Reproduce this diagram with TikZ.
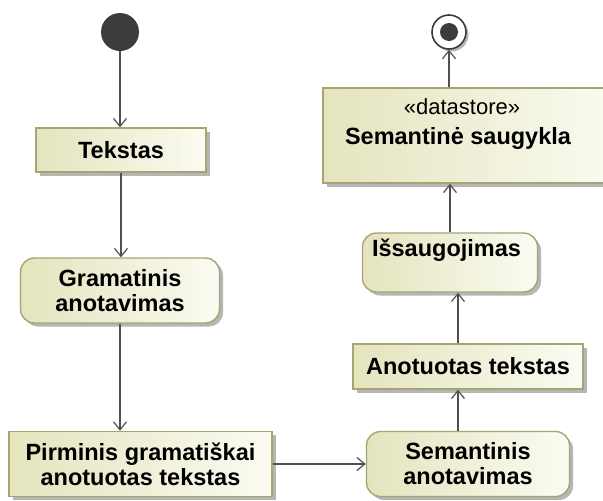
\documentclass[tikz,border=0pt]{standalone}
\usepackage{fontspec}
\setmainfont{Liberation Sans}
\usetikzlibrary{arrows.meta,shadows}
\definecolor{boxL}{RGB}{228,228,190}
\definecolor{boxR}{RGB}{251,251,242}
\definecolor{boxEdge}{RGB}{165,165,115}
\definecolor{flow}{RGB}{80,80,80}
\definecolor{dot}{RGB}{60,60,60}
\definecolor{shadowgrey}{RGB}{182,182,182}
\begin{document}
\begin{tikzpicture}[x=1pt,y=-1pt,
  lbl/.style={font=\fontsize{23.5}{25}\selectfont\bfseries, align=center, inner sep=0pt},
  stereo/.style={font=\fontsize{22}{24}\selectfont, inner sep=0pt},
  boxbase/.style={draw=boxEdge, line width=1.4pt, left color=boxL, right color=boxR,
    drop shadow={shadow xshift=3.5pt, shadow yshift=-3.5pt, fill=shadowgrey, opacity=1},
    inner sep=0pt, font=\fontsize{23.5}{25}\selectfont\bfseries, align=center},
  objbox/.style={boxbase, rectangle},
  actbox/.style={boxbase, rectangle, rounded corners=14pt},
  flowline/.style={draw=flow, line width=1.3pt, -{Straight Barb[length=8pt,width=13pt,line width=1.2pt]}}]
\clip (0,0) rectangle (603,501);
\useasboundingbox (0,0) rectangle (603,501);

% start and end points of the activity
\node[circle, fill=dot, minimum size=38pt, inner sep=0pt] (init) at (120,32) {};
\node[circle, draw=dot, line width=1.6pt, fill=white, minimum size=34pt, inner sep=0pt,
  drop shadow={shadow xshift=2.5pt, shadow yshift=-2.5pt, fill=shadowgrey, opacity=1}] (final) at (449,32) {};
\node[circle, fill=dot, minimum size=18pt, inner sep=0pt] (finalIn) at (final) {};

% left column
\node[objbox, minimum width=170pt, minimum height=44pt] (tekstas) at (121,150) {Tekstas};
\node[actbox, minimum width=199pt, minimum height=65pt] (gram) at (120,290.5) {Gramatinis\\anotavimas};
\node[objbox, minimum width=263pt, minimum height=65pt] (pirm) at (140.5,464) {Pirminis gramatiškai\\anotuotas tekstas};

% right column
\node[actbox, minimum width=203pt, minimum height=65pt] (sem) at (468,464) {Semantinis\\anotavimas};
\node[objbox, minimum width=230pt, minimum height=45pt] (anot) at (468,366.5) {Anotuotas tekstas};
\node[actbox, minimum width=175pt, minimum height=59pt] (issa) at (450,262.5) {};
\node[lbl] (issaT) at (446.5,250) {Išsaugojimas};
\node[objbox, minimum width=297pt, minimum height=95pt] (store) at (471.5,135.5) {};
\node[stereo] (storeS) at (462,107) {«datastore»};
\node[lbl] (storeT) at (458,138) {Semantinė saugykla};

% control and object flows
\draw[flowline] (init) -- (init |- tekstas.north);
\draw[flowline] (tekstas.south) -- (tekstas.south |- gram.north);
\draw[flowline] (gram.south) -- (gram.south |- pirm.north);
\draw[flowline] (pirm.east) -- (sem.west);
\draw[flowline] ([xshift=-10pt]sem.north) -- ([xshift=-10pt]sem.north |- anot.south);
\draw[flowline] ([xshift=-10pt]anot.north) -- ([xshift=-10pt]anot.north |- issa.south);
\draw[flowline] (issa.north) -- (issa.north |- store.south);
\draw[flowline] (final.south |- store.north) -- (final.south);
\end{tikzpicture}
\end{document}
